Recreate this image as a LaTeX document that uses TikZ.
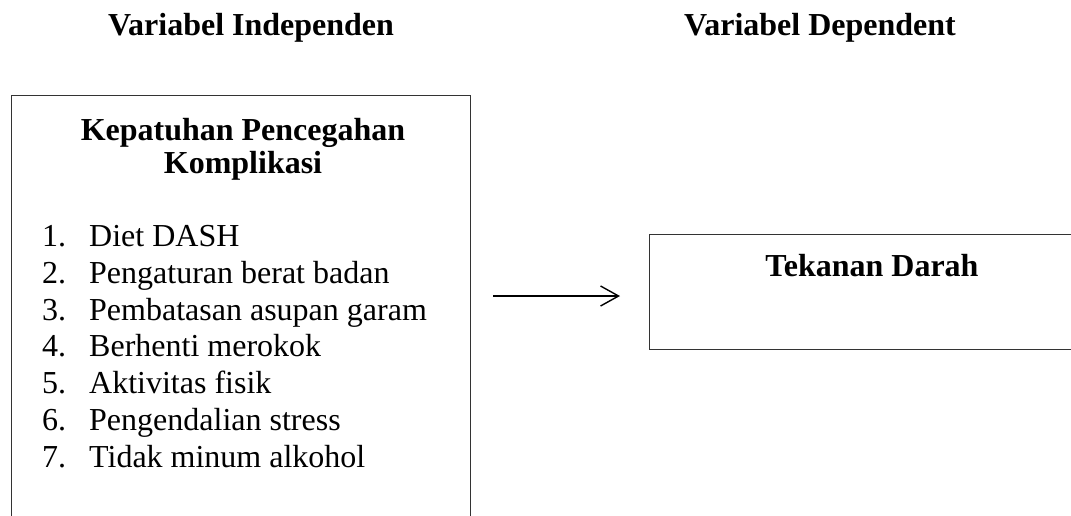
\documentclass[tikz,border=0pt]{standalone}
\usepackage{fontspec}
\setmainfont{Liberation Serif}
\usetikzlibrary{arrows.meta}
\tikzset{
  box/.style={draw=black!80, line width=1.3pt, inner sep=0pt},
  head/.style={font=\fontsize{32}{36.8}\selectfont\bfseries, inner sep=0pt, anchor=base},
  num/.style={font=\fontsize{32}{36.8}\selectfont, inner sep=0pt, anchor=base west},
  item/.style={font=\fontsize{32}{36.8}\selectfont, inner sep=0pt, anchor=base west},
  conn/.style={line width=1.4pt, -{Straight Barb[length=18pt,width=20pt,line width=1.4pt]}}
}
\begin{document}
\begin{tikzpicture}[x=1pt,y=-1pt]
\useasboundingbox (0,0) rectangle (1071,515);
\clip (0,0) rectangle (1071,515);
\node[box, minimum width=459pt, minimum height=440pt, anchor=north west] (lbox) at (11,95) {};
\node[box, minimum width=450pt, minimum height=115pt, anchor=north west] (rbox) at (649,234) {};
\node[head] (h1) at (251,35) {Variabel Independen};
\node[head] (h2) at (820,35) {Variabel Dependent};
\node[head] (t1) at (243,140) {Kepatuhan Pencegahan};
\node[head] (t2) at (243,173) {Komplikasi};
\node[head] (t3) at (872,276) {Tekanan Darah};
\node[num] (n1) at (42,246.5) {1.};
\node[num] (n2) at (42,283.3) {2.};
\node[num] (n3) at (42,320.1) {3.};
\node[num] (n4) at (42,356.9) {4.};
\node[num] (n5) at (42,393.7) {5.};
\node[num] (n6) at (42,430.5) {6.};
\node[num] (n7) at (42,467.3) {7.};
\node[item] (i1) at (89,246.5) {Diet DASH};
\node[item] (i2) at (89,283.3) {Pengaturan berat badan};
\node[item] (i3) at (89,320.1) {Pembatasan asupan garam};
\node[item] (i4) at (89,356.9) {Berhenti merokok};
\node[item] (i5) at (89,393.7) {Aktivitas fisik};
\node[item] (i6) at (89,430.5) {Pengendalian stress};
\node[item] (i7) at (89,467.3) {Tidak minum alkohol};
\coordinate (a1) at (493,296);
\coordinate (a2) at (620,296);
\draw[conn] (a1) -- (a2);
\end{tikzpicture}
\end{document}
